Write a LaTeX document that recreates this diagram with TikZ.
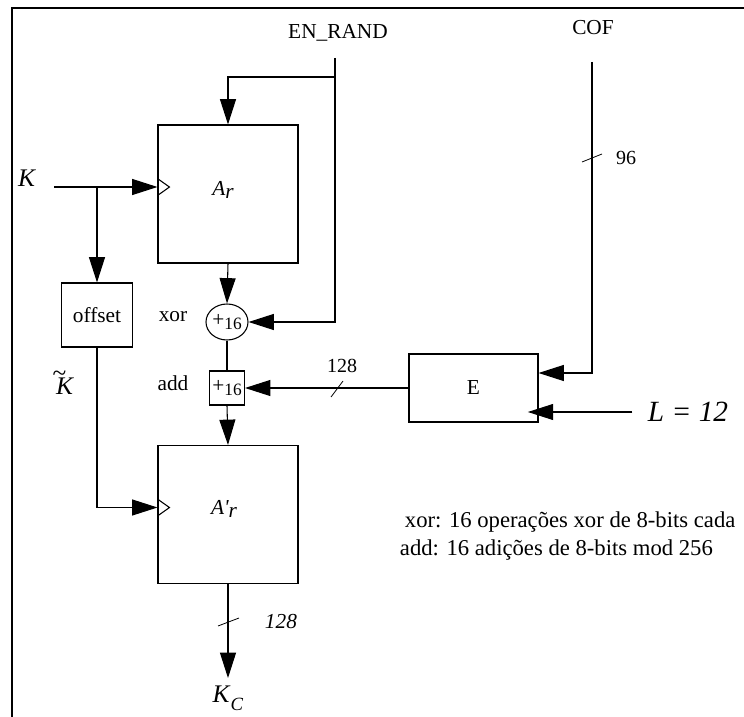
\documentclass[tikz,border=0pt]{standalone}
\usepackage{fontspec}
\setmainfont{Liberation Serif}
\usetikzlibrary{arrows.meta,shapes.geometric}

\begin{document}
\begin{tikzpicture}[x=0.75pt, y=-0.75pt, line width=0.8pt,
  >={Triangle[length=19pt,width=12pt]},
  blk/.style={draw, inner sep=0pt},
  lbl/.style={font=\fontsize{16}{18}\selectfont},
  sml/.style={font=\fontsize{13}{14}\selectfont},
  tick/.style={line width=0.6pt}]

\useasboundingbox (0,0) rectangle (744,717);

% --- frame: only the top and left edges are visible ---------------------
\draw[line width=1.6pt] (744,8) -- (12,8) -- (12,717);

% --- the two round registers ------------------------------------------
\node[blk, minimum width=105pt, minimum height=103.5pt] (ar) at (228,194) {};
\node[blk, minimum width=105pt, minimum height=103.5pt] (arp) at (228,514.5) {};
\node[lbl] (arlbl) at (223,190) {\textit{A\raisebox{-0.35ex}{r}}};
\node[lbl] (arplbl) at (224,509) {\textit{A\textquotesingle\raisebox{-0.35ex}{r}}};
% clock inputs (open triangles on the left edge)
\draw ([yshift=11.6pt]ar.west) -- ++(12,8.5) -- ++(-12,8.5);
\draw ([yshift=11.6pt]arp.west) -- ++(12,8.5) -- ++(-12,8.5);

% --- offset, xor, add and E ---------------------------------------------
\node[blk, lbl, minimum width=53.25pt, minimum height=48pt] (off) at (97,315) {offset};
\node[draw, ellipse, inner sep=0pt, minimum width=31.5pt, minimum height=27pt, sml]
  (xor) at (227,322) {{\fontsize{16}{16}\selectfont+}\raisebox{-0.45ex}{16}};
\node[blk, sml, minimum width=26.25pt, minimum height=25.5pt] (add) at (227,388)
  {{\fontsize{16}{16}\selectfont+}\raisebox{-0.45ex}{16}};
\node[blk, lbl, minimum width=96.75pt, minimum height=51pt] (E) at (473.5,388) {E};
\node[lbl] (xorlbl) at (173,317) {xor};
\node[lbl] (addlbl) at (173,383) {add};

% --- inputs ---------------------------------------------------------------
\node[lbl] (en) at (338,33) {EN\_RAND};
\node[lbl] (cof) at (593,28) {COF};
\node[font=\fontsize{19}{20}\selectfont] (k) at (27,178) {\textit{K}};
\node[font=\fontsize{22}{24}\selectfont, anchor=west] (L) at (643,412) {\textit{L = 12}};
\coordinate (entop) at (335,58);
\coordinate (enbr) at (335,77);
\coordinate (coftop) at (592,62);
\coordinate (kin) at (54,187);
\coordinate (kj) at (97,187);

\draw[->] (entop) |- (xor.east);
\draw[->] (enbr) -| (ar.north);
\draw[->] (coftop) |- ([yshift=11.25pt]E.east);
\draw[->] ([xshift=-8pt]L.west) -- ([xshift=-8pt]L.west -| E.east);
\draw[->] (kin) -- ([yshift=5.25pt]ar.west);
\draw[->] (kj) -- (off.north);
\draw[->] (off.south) |- ([yshift=5.25pt]arp.west);

% --- data path -------------------------------------------------------------
\draw[->] (ar.south) -- (xor.north);
\draw (xor.south) -- (add.north);
\draw[->] (add.south) -- (arp.north);
\draw[->] (E.west) -- (add.east);
\coordinate (kcout) at (228,678);
\draw[->] (arp.south) -- (kcout);

% bus widths
\draw[tick] (582,162) -- (602,154);
\node[font=\fontsize{15}{16}\selectfont] (w96) at (626,158) {96};
\draw[tick] (331,397) -- (343,381);
\node[font=\fontsize{15}{16}\selectfont] (w128) at (342,366) {128};
\draw[tick] (218,626) -- (239,618);
\node[font=\fontsize{16}{18}\selectfont, anchor=west] (wout) at (260,622) {\textit{128}};

% --- output and notes --------------------------------------------------------
\node[font=\fontsize{19}{20}\selectfont] (kt) at (65,383)
  {\textit{K}\llap{\raisebox{0.5em}{\~{}}\kern0.3em}};
\node[font=\fontsize{19}{20}\selectfont] (kc) at (228,698)
  {\textit{K}\raisebox{-0.3em}{\fontsize{14}{14}\selectfont\textit{C}}};
\node[font=\fontsize{17}{18}\selectfont, anchor=west] (n1) at (400,522)
  {xor: 16 operações xor de 8-bits cada};
\node[font=\fontsize{17}{18}\selectfont, anchor=west] (n2) at (395,550)
  {add: 16 adições de 8-bits mod 256};

\end{tikzpicture}
\end{document}
